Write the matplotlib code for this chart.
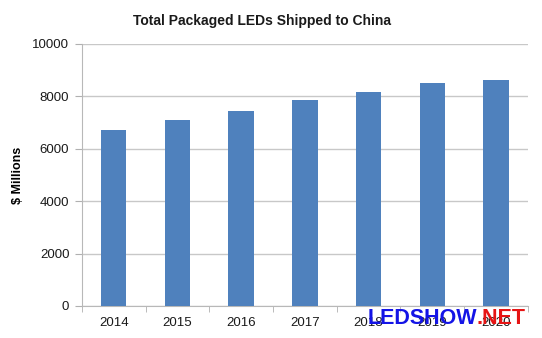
import matplotlib
matplotlib.use("Agg")
import matplotlib.pyplot as plt
import numpy as np

years = ["2014", "2015", "2016", "2017", "2018", "2019", "2020"]
values = [6720, 7090, 7450, 7850, 8170, 8500, 8615]
yticks = [0, 2000, 4000, 6000, 8000, 10000]

plt.rcParams['font.family'] = ['Liberation Sans', 'DejaVu Sans']

fig = plt.figure(figsize=(5.42, 3.38), dpi=100)
ax = fig.add_axes([0.151, 0.095, 0.823, 0.775])

x = np.arange(len(years))
ax.bar(x, values, width=0.4, color="#4f81bd", zorder=3)

ax.set_xlim(-0.5, len(years) - 0.5)
ax.set_ylim(0, 10000)
ax.set_yticks(yticks)
ax.set_yticklabels([str(v) for v in yticks], fontsize=9.5, color="#1a1a1a")
ax.set_xticks(x)
ax.set_xticklabels(years, fontsize=9.5, color="#1a1a1a")
ax.tick_params(axis='x', length=0, pad=8)
ax.set_xticks(np.arange(-0.5, len(years), 1), minor=True)
ax.tick_params(axis='x', which='minor', length=4, color="#b0b0b0", direction='out')
ax.tick_params(axis='y', length=5, color="#b0b0b0", pad=4)

ax.grid(axis='y', color="#c8c8c8", linewidth=1.0, zorder=0)
for s in ['top', 'right']:
    ax.spines[s].set_visible(False)
ax.spines['left'].set_color("#b8b8b8")
ax.spines['bottom'].set_color("#b8b8b8")

ax.set_ylabel("$ Millions", fontsize=9, fontweight='bold', labelpad=6)
fig.text(0.483, 0.937, "Total Packaged LEDs Shipped to China", ha='center', va='center',
         fontsize=10, fontweight='bold', color="#1a1a1a")

# watermark
fig.text(368 / 542, 1 - 318 / 338, "LEDSHOW", ha='left', va='center',
         fontsize=15.5, fontweight='bold', color="#1414e6")
fig.text(477 / 542, 1 - 318 / 338, ".NET", ha='left', va='center',
         fontsize=15.5, fontweight='bold', color="#e61414")

fig.savefig("out.png", dpi=100)
